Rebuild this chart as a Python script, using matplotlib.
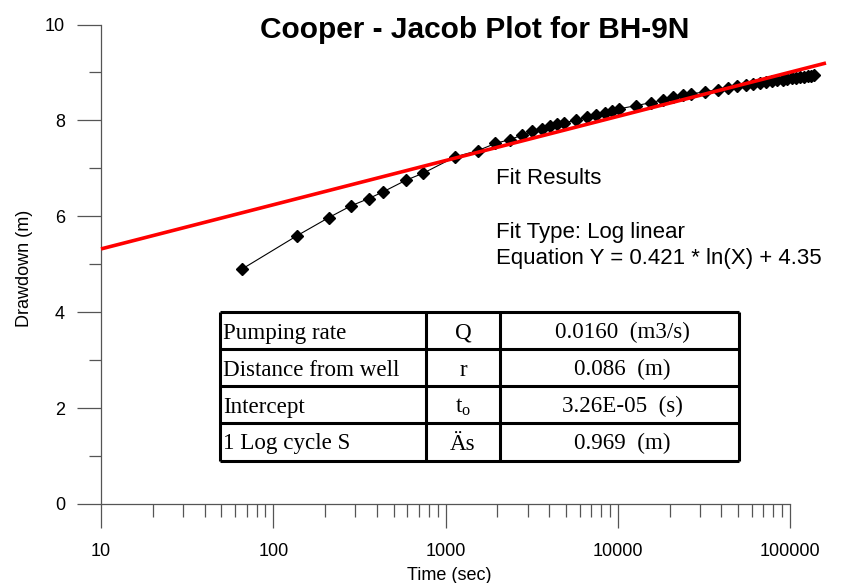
import numpy as np
import matplotlib
matplotlib.use('Agg')
import matplotlib.pyplot as plt
from matplotlib.ticker import FixedLocator, FuncFormatter, LogLocator, NullFormatter

plt.rcParams['font.family'] = ['Liberation Sans', 'DejaVu Sans']
plt.rcParams['mathtext.fontset'] = 'custom'
plt.rcParams['mathtext.rm'] = 'Liberation Serif'
plt.rcParams['mathtext.it'] = 'Liberation Serif:italic'

# pumping test readings (time in s, drawdown in m)
time_s = [60, 120, 180, 240, 300, 360, 480, 600, 900, 1200, 1500, 1800,
          2100, 2400, 2700, 3000, 3300, 3600, 4200, 4800, 5400, 6000, 6600,
          7200, 9000, 10800, 12600, 14400, 16200, 18000, 21600, 25200, 28800,
          32400, 36000, 39600, 43200, 46800, 50400, 54000, 57600, 61200,
          64800, 68400, 72000, 75600, 79200, 82800, 86400]
drawdown_m = [4.90, 5.59, 5.97, 6.22, 6.37, 6.51, 6.75, 6.90, 7.24, 7.37,
              7.52, 7.60, 7.69, 7.77, 7.83, 7.88, 7.92, 7.95, 8.01, 8.08,
              8.12, 8.16, 8.20, 8.24, 8.31, 8.37, 8.43, 8.48, 8.52, 8.55,
              8.60, 8.64, 8.68, 8.71, 8.74, 8.76, 8.78, 8.80, 8.82, 8.84,
              8.85, 8.87, 8.88, 8.89, 8.90, 8.91, 8.92, 8.93, 8.95]

# log linear fit  Y = a*ln(X) + b
fit_slope = 0.421
fit_intercept = 4.35
fit_x = np.array([10, 100000])
fit_y = fit_slope * np.log(fit_x) + fit_intercept

# results table
table_labels = ['Pumping rate', 'Distance from well', 'Intercept', '1 Log cycle S']
table_symbols = ['Q', 'r', r'$\mathrm{t_o}$', 'Äs']
table_values = ['0.0160  (m3/s)', '0.086  (m)', '3.26E-05  (s)', '0.969  (m)']

W, H = 861, 583
fig = plt.figure(figsize=(W / 100, H / 100), dpi=100)

# axis frame (ticks + spines)
axf = fig.add_axes([101 / W, 79 / H, 689 / W, 479.5 / H])
axf.set_xscale('log')
axf.set_xlim(10, 100000)
axf.set_ylim(0, 10)
axf.patch.set_alpha(0)
for s in ['top', 'right']:
    axf.spines[s].set_visible(False)
for s in ['left', 'bottom']:
    axf.spines[s].set_color('#555555')
    axf.spines[s].set_linewidth(0.9)
axf.yaxis.set_major_locator(FixedLocator([0, 2, 4, 6, 8, 10]))
axf.yaxis.set_minor_locator(FixedLocator([1, 3, 5, 7, 9]))
axf.xaxis.set_major_locator(LogLocator(base=10, numticks=10))
axf.xaxis.set_minor_locator(LogLocator(base=10, subs=np.arange(2, 10), numticks=20))
axf.xaxis.set_minor_formatter(NullFormatter())
axf.xaxis.set_major_formatter(FuncFormatter(lambda v, p: f'{int(round(v))}'))
axf.tick_params(axis='both', which='major', direction='out', length=17,
                width=0.9, color='#555555', labelsize=13)
axf.tick_params(axis='both', which='minor', direction='out', length=9,
                width=0.9, color='#555555')
axf.tick_params(axis='y', which='major', pad=9)
axf.tick_params(axis='x', which='major', pad=11)
axf.set_xlabel('Time (sec)', fontsize=13)
axf.set_ylabel('Drawdown (m)', fontsize=13)
axf.xaxis.set_label_coords((449 - 101) / 689, (504 - 567) / 479.5)
axf.yaxis.set_label_coords((33 - 101) / 689, (504 - 268) / 479.5)

# data axes
ax = fig.add_axes([101 / W, 79 / H, 725 / W, 479.5 / H])
ax.set_xscale('log')
ax.set_xlim(10, 100000)
ax.set_ylim(0, 10)
ax.axis('off')
ax.plot(time_s, drawdown_m, color='black', lw=0.8, marker='D', ms=6.3,
        mfc='black', mec='black', clip_on=False, zorder=2)
ax.plot(fit_x, fit_y, color='red', lw=2.6, solid_capstyle='butt',
        clip_on=False, zorder=3)

# overlay in pixel coordinates for title, notes and table
ov = fig.add_axes([0, 0, 1, 1])
ov.set_xlim(0, W)
ov.set_ylim(H, 0)
ov.axis('off')

ov.text(475, 38, 'Cooper - Jacob Plot for BH-9N', ha='center', va='baseline',
        fontsize=21.5, fontweight='bold')
ov.text(496, 184, 'Fit Results', fontsize=16, va='baseline')
ov.text(496, 238, 'Fit Type: Log linear', fontsize=16, va='baseline')
ov.text(496, 264, f'Equation Y = {fit_slope} * ln(X) + {fit_intercept}',
        fontsize=16, va='baseline')

col_edges = [220, 426, 500, 739]
row_edges = [312, 349, 386, 423, 461]
ov.hlines(row_edges, col_edges[0], col_edges[-1], colors='black', lw=2.2)
ov.vlines(col_edges, row_edges[0], row_edges[-1], colors='black', lw=2.2)
serif = ['Liberation Serif', 'DejaVu Serif']
for i in range(len(table_labels)):
    yb = row_edges[i] + 26.5
    ov.text(col_edges[0] + 3, yb, table_labels[i], family=serif,
            fontsize=16.6, va='baseline', ha='left')
    ov.text((col_edges[1] + col_edges[2]) / 2, yb, table_symbols[i],
            family=serif, fontsize=16.6, va='baseline', ha='center')
    ov.text(622, yb, table_values[i], family=serif, fontsize=16.6,
            va='baseline', ha='center')

fig.savefig('out.png', dpi=100)
